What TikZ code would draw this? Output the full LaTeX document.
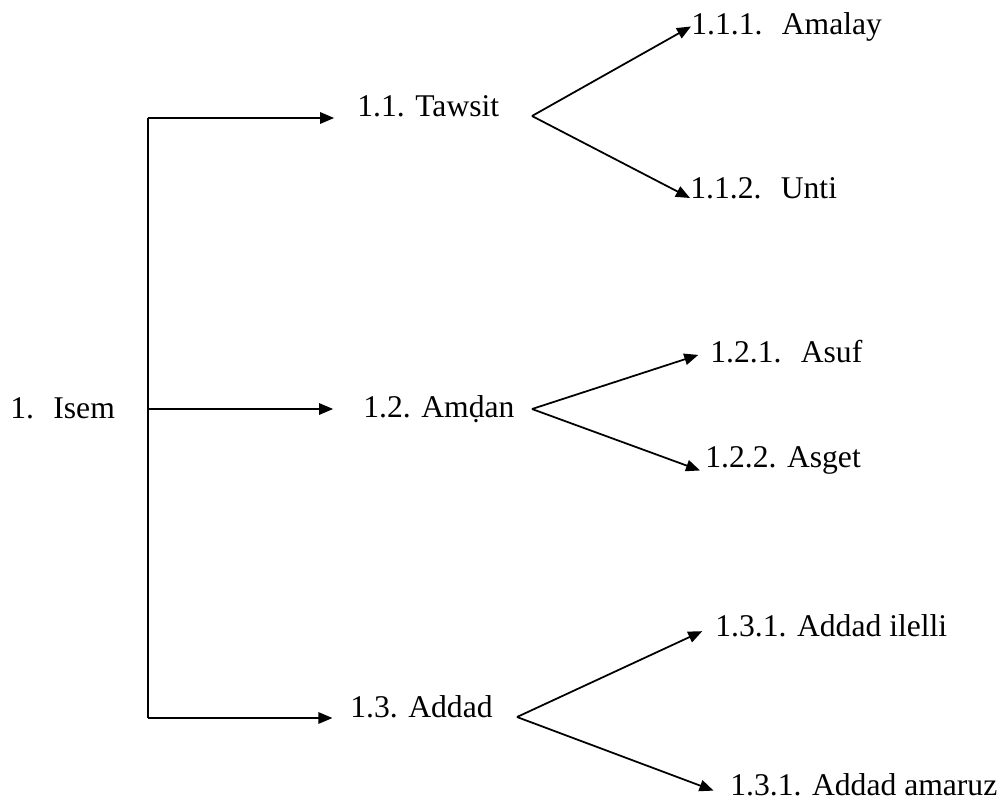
\documentclass[tikz,border=0pt]{standalone}
\usepackage{fontspec}
\setmainfont{Liberation Serif}
\usetikzlibrary{arrows.meta}
\tikzset{
  lbl/.style={inner sep=0pt, anchor=base west, font=\fontsize{18}{21}\selectfont},
  trunk/.style={line width=1pt},
  branch/.style={line width=1pt, -{Triangle[length=8pt,width=6.5pt]}},
  gap/.style={shorten >=#1},
}
\begin{document}
\begin{tikzpicture}[x=0.02cm,y=-0.02cm]
\useasboundingbox (0,0) rectangle (1000,808);
% root
\node[lbl] (isem) at (10,418) {1.\hspace{11pt}Isem};
% second level
\node[lbl] (tawsit) at (357,116) {1.1. Tawsit};
\node[lbl] (amdan) at (363,417) {1.2. Amḍan};
\node[lbl] (addad) at (350,717) {1.3. Addad};
% third level
\node[lbl] (amalay) at (691,34) {1.1.1.\hspace{11pt}Amalay};
\node[lbl] (unti) at (690,198) {1.1.2.\hspace{11pt}Unti};
\node[lbl] (asuf) at (710,362) {1.2.1.\hspace{11pt}Asuf};
\node[lbl] (asget) at (705,467) {1.2.2. Asget};
\node[lbl] (ilelli) at (715,636) {1.3.1. Addad ilelli};
\node[lbl] (amaruz) at (730,795) {1.3.1. Addad amaruz};
% trunk
\coordinate (ttop) at (148,118);
\coordinate (tmid) at (148,409);
\coordinate (tbot) at (148,718);
\draw[trunk] (ttop) -- (tbot);
\draw[branch, gap=13pt] (ttop) -- (ttop -| tawsit.west);
\draw[branch, gap=17pt] (tmid) -- (tmid -| amdan.west);
\draw[branch, gap=10pt] (tbot) -- (tbot -| addad.west);
% forks
\coordinate (f1) at (532,116);
\coordinate (f2) at (532,409);
\coordinate (f3) at (517,717);
\draw[branch] (f1) -- (amalay.west);
\draw[branch] (f1) -- (unti.base west);
\draw[branch, gap=7pt] (f2) -- (asuf.west);
\draw[branch, gap=3pt] (f2) -- ([yshift=-3pt]asget.base west);
\draw[branch, gap=8pt] (f3) -- (ilelli.west);
\draw[branch, gap=10pt] (f3) -- ([yshift=-1pt]amaruz.base west);
\end{tikzpicture}
\end{document}
